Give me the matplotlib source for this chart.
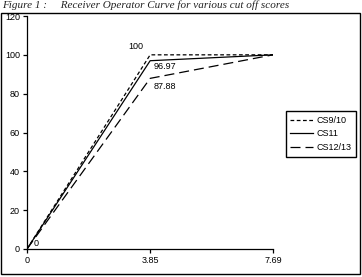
import matplotlib.pyplot as plt
from matplotlib import font_manager
from matplotlib.patches import Rectangle

# data
x_vals = [0, 3.85, 7.69]
cs9_10 = [0, 100, 100]
cs11 = [0, 96.97, 100]
cs12_13 = [0, 87.88, 100]
y_ticks = [0, 20, 40, 60, 80, 100, 120]
x_ticks = [0, 3.85, 7.69]
x_ticklabels = ['0', '3.85', '7.69']

# make sure the regular Liberation Sans is used, not the narrow cut
sans = 'DejaVu Sans'
for f in font_manager.fontManager.ttflist:
    if f.fname.endswith('LiberationSans-Regular.ttf'):
        font_manager.fontManager.addfont(f.fname)
        sans = f.name
        break
plt.rcParams['font.family'] = [sans, 'DejaVu Sans']
plt.rcParams['font.stretch'] = 'normal'

W, H = 362, 277
fig = plt.figure(figsize=(W / 100, H / 100), dpi=100)
fig.patch.set_facecolor('white')

# outer frame of the chart object
fig.add_artist(Rectangle((1 / W, 1 - 274 / H), 359 / W, 261 / H,
                         transform=fig.transFigure, fill=False,
                         edgecolor='black', linewidth=1.0))

# caption at the very top
fig.text(2 / W, 1 - 5 / H,
         'Figure 1 :     Receiver Operator Curve for various cut off scores',
         family='Liberation Serif', style='italic', fontsize=8,
         ha='left', va='center', color='#222222')

ax = fig.add_axes([27 / W, 1 - 249 / H, 246 / W, 233 / H])
ax.plot(x_vals, cs9_10, color='black', lw=0.9, dashes=[3, 2], label='CS9/10')
ax.plot(x_vals, cs11, color='black', lw=0.9, label='CS11')
ax.plot(x_vals, cs12_13, color='black', lw=0.9, dashes=[8, 4], label='CS12/13')

ax.set_xlim(0, 7.69)
ax.set_ylim(0, 120)
ax.set_xticks(x_ticks)
ax.set_xticklabels(x_ticklabels)
ax.set_yticks(y_ticks)
ax.spines['top'].set_visible(False)
ax.spines['right'].set_visible(False)
for s in ['left', 'bottom']:
    ax.spines[s].set_linewidth(0.9)
ax.tick_params(direction='out', length=3, width=0.9, labelsize=6.5,
               pad=2, colors='black')

# data labels
ax.text(3.85 - 0.22, 100 + 2, '100', fontsize=6.5, ha='right', va='bottom')
ax.text(3.85 + 0.1, 96.97 - 2.9, '96.97', fontsize=6.5, ha='left', va='center')
ax.text(3.85 + 0.1, 87.88 - 4, '87.88', fontsize=6.5, ha='left', va='center')
ax.text(0.2, 3, '0', fontsize=6.5, ha='left', va='center')

fig.legend(loc='center', bbox_to_anchor=(321 / W, 1 - 134 / H),
           fontsize=6.5, frameon=True, fancybox=False, edgecolor='black',
           framealpha=1, handlelength=2.5, handletextpad=0.4,
           labelspacing=0.5, borderpad=0.5, borderaxespad=0)

fig.savefig('out.png', dpi=100)
